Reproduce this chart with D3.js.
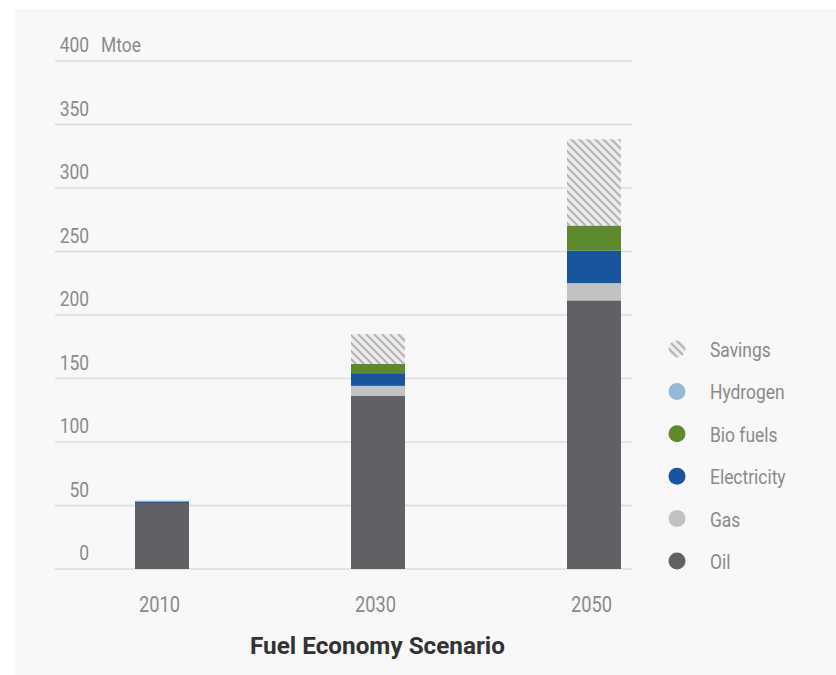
<!DOCTYPE html>
<html>
<head>
<meta charset="utf-8">
<script src="https://cdn.jsdelivr.net/npm/d3@7/dist/d3.min.js"></script>
<style>
  html, body { margin: 0; padding: 0; background: #ffffff; }
  svg { display: block; }
  text { font-family: "Roboto", "DejaVu Sans Condensed", sans-serif; }
</style>
</head>
<body>
<svg id="chart" width="836" height="675"></svg>
<script>
// Transport energy demand by source, Mtoe
const years = ["2010", "2030", "2050"];
const oil         = [52, 136.5, 211.5];
const gas         = [0, 7.7, 13.6];
const electricity = [1.2, 10, 25.6];
const bioFuels    = [0, 7.4, 19.7];
const hydrogen    = [0.6, 0, 0];
const savings     = [0, 23.3, 68];
const yTicks = [0, 50, 100, 150, 200, 250, 300, 350, 400];
const seriesNames = ["Oil", "Gas", "Electricity", "Bio fuels", "Hydrogen", "Savings"];
const seriesColors = ["#5f6164", "#c1c2c4", "#17559d", "#5e8a2d", "#98b8d8", "url(#hatch)"];
const title = "Fuel Economy Scenario";
const unit = "Mtoe";

const seriesValues = [oil, gas, electricity, bioFuels, hydrogen, savings];
const rows = years.map((y, i) => {
  const r = { year: y };
  seriesNames.forEach((n, k) => r[n] = seriesValues[k][i]);
  return r;
});

const svg = d3.select("#chart");
const labelGrey = "#8a8a8a";
const SX = 0.83; // horizontal squeeze for a condensed look

// draws text squeezed horizontally around its anchor point
function condensed(parent, x, yPos, str, size, anchor, fill, weight) {
  const g = parent.append("g").attr("transform", `translate(${x},${yPos}) scale(${SX},1)`);
  g.append("text").attr("text-anchor", anchor || "start")
    .attr("font-size", size).attr("fill", fill || labelGrey)
    .attr("font-weight", weight || 400)
    .text(str);
  return g;
}

// hatch pattern for savings
const defs = svg.append("defs");
const pat = defs.append("pattern")
  .attr("id", "hatch").attr("patternUnits", "userSpaceOnUse")
  .attr("width", 8).attr("height", 8);
pat.append("rect").attr("width", 8).attr("height", 8).attr("fill", "#ededed");
pat.append("path").attr("d", "M-2,-2 L10,10 M-2,6 L2,10 M6,-2 L10,2")
  .attr("stroke", "#b3b3b3").attr("stroke-width", 2);

// panel
svg.append("rect").attr("x", 14).attr("y", 9).attr("width", 822).attr("height", 666).attr("fill", "#f8f8f8");

const plotLeft = 55, plotRight = 632;
const x = d3.scalePoint().domain(years).range([162, 594]);
const y = d3.scaleLinear().domain([0, 400]).range([569, 61]);
const barW = 54;

// gridlines with right-aligned labels sitting above them
const grid = svg.append("g");
grid.selectAll("line").data(yTicks).join("line")
  .attr("x1", plotLeft).attr("x2", plotRight)
  .attr("y1", d => y(d)).attr("y2", d => y(d))
  .attr("stroke", "#dcdcdc").attr("stroke-width", 1.5);
yTicks.forEach(t => condensed(grid, 89, y(t) - 9, String(t), 21, "end"));
condensed(grid, 101, y(400) - 9, unit, 21, "start");

// stacked bars
const stack = d3.stack().keys(seriesNames)(rows);
svg.append("g").selectAll("g").data(stack).join("g")
  .attr("fill", (d, i) => seriesColors[i])
  .selectAll("rect").data(d => d).join("rect")
  .attr("x", d => x(d.data.year) - barW / 2)
  .attr("width", barW)
  .attr("y", d => y(d[1]))
  .attr("height", d => Math.max(0, y(d[0]) - y(d[1])));

// x axis labels
const xAxis = svg.append("g").attr("transform", "translate(0,569)")
  .call(d3.axisBottom(x).tickSize(0).tickPadding(0));
xAxis.select(".domain").remove();
xAxis.selectAll(".tick text").remove();
xAxis.selectAll(".tick").each(function(d) {
  condensed(d3.select(this), -3, 43, d, 22, "middle");
});

// title
svg.append("text").attr("x", 250).attr("y", 654)
  .attr("font-size", 23).attr("font-weight", "bold").attr("fill", "#333333")
  .attr("textLength", 255).attr("lengthAdjust", "spacingAndGlyphs")
  .text(title);

// legend, top to bottom
const legendOrder = seriesNames.map((n, i) => ({ name: n, color: seriesColors[i] })).reverse();
const lg = svg.append("g").selectAll("g").data(legendOrder).join("g")
  .attr("transform", (d, i) => `translate(677,${349 + i * 42.4})`);
lg.append("circle").attr("r", 8.5).attr("fill", d => d.color);
lg.each(function(d) { condensed(d3.select(this), 33, 8, d.name, 21, "start"); });
</script>
</body>
</html>
